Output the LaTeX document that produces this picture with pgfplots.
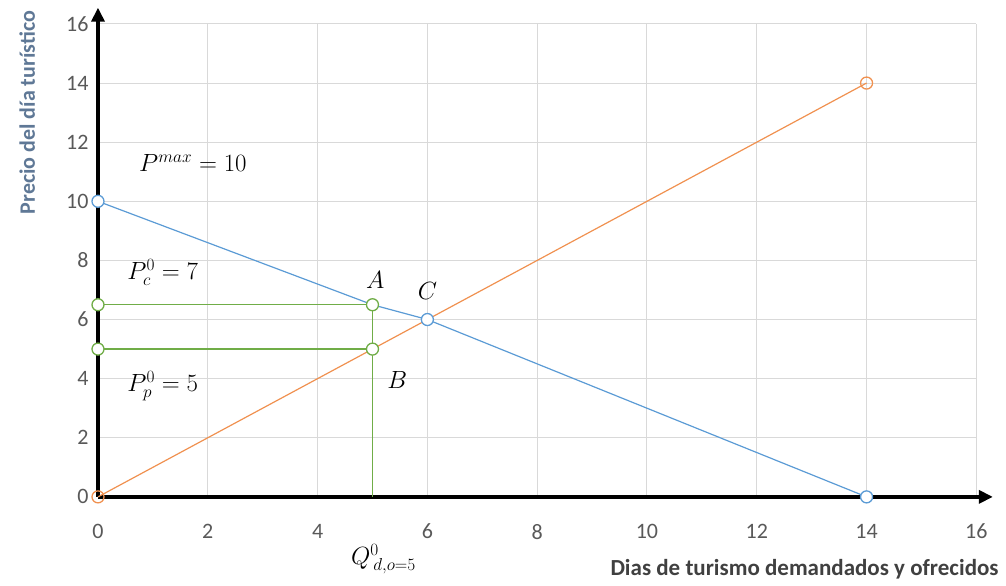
\documentclass[border=0pt]{standalone}
\usepackage{pgfplots}
\pgfplotsset{compat=1.18}
\usepackage{fontspec}
\setmainfont{Carlito}
\usetikzlibrary{arrows.meta}
\definecolor{xlblue}{RGB}{91,155,213}
\definecolor{xlorange}{RGB}{237,125,49}
\definecolor{xlgreen}{RGB}{112,173,71}
\definecolor{gridgray}{RGB}{217,217,217}
\definecolor{ticktext}{RGB}{89,89,89}
\definecolor{ytitle}{RGB}{95,120,150}
\definecolor{xtitle}{RGB}{64,64,64}
\begin{document}
\begin{tikzpicture}
\begin{axis}[
  x=54.9pt, y=29.56pt,
  xmin=0, xmax=16, ymin=0, ymax=16,
  xtick={0,2,...,16}, ytick={0,2,...,16},
  major tick length=0pt,
  grid=major,
  major grid style={gridgray, line width=1pt},
  axis line style={draw=none},
  tick label style={ticktext, font=\fontsize{22}{26}\selectfont},
  /pgf/number format/assume math mode=true,
  xticklabel style={inner sep=1pt, yshift=-26pt},
  yticklabel style={xshift=-6pt},
  clip=false,
]
% invisible frame giving the picture its size
\path (axis cs:-1.785,-3.01) rectangle (axis cs:16.54,16.81);

% axes with arrows
\draw[line width=3.5pt, -{Triangle[length=14pt,width=13pt]}] (axis cs:0,0) -- (axis cs:16.3,0);
\draw[line width=3.5pt, -{Triangle[length=14pt,width=13pt]}] (axis cs:0,0) -- (axis cs:0,16.55);

% supply
\addplot[xlorange!85, line width=1.2pt, mark=o, mark size=6pt,
  mark options={fill=white, line width=1.3pt}] coordinates {(0,0) (14,14)};
% demand
\addplot[xlblue, line width=1.2pt] coordinates {(0,10) (5,6.5) (6,6) (14,0)};
\addplot[only marks, xlblue, mark=*, mark size=6pt,
  mark options={fill=white, line width=1.3pt}] coordinates {(0,10) (6,6) (14,0)};
% green guides
\addplot[xlgreen, line width=1.2pt] coordinates {(5,6.5) (5,0)};
\addplot[xlgreen, line width=1.2pt, mark=*, mark size=6pt,
  mark options={fill=white, line width=1.3pt}] coordinates {(0,6.5) (5,6.5)};
\addplot[xlgreen, line width=1.2pt, mark=*, mark size=6pt,
  mark options={fill=white, line width=1.3pt}] coordinates {(0,5) (5,5)};

% annotations
\node[font=\fontsize{26}{30}\selectfont] at (axis cs:1.73,11.3) {$P^{max}=10$};
\node[font=\fontsize{26}{30}\selectfont] at (axis cs:1.18,7.6) {$P_c^0=7$};
\node[font=\fontsize{26}{30}\selectfont] at (axis cs:1.18,3.75) {$P_p^0=5$};
\node[font=\fontsize{25}{30}\selectfont] at (axis cs:5.05,7.35) {$A$};
\node[font=\fontsize{25}{30}\selectfont] at (axis cs:5.45,3.95) {$B$};
\node[font=\fontsize{25}{30}\selectfont] at (axis cs:6.0,6.95) {$C$};
\node[inner sep=0pt, font=\fontsize{25}{30}\selectfont] at (axis cs:5.2,-2.1) {$Q^{0}_{\,d,o=5}$};

% axis titles
\node[rotate=90, ytitle, font=\bfseries\fontsize{22}{26}\selectfont] at (axis cs:-1.29,13.0) {Precio del día turístico};
\node[xtitle, font=\bfseries\fontsize{23}{27}\selectfont] at (axis cs:12.87,-2.45) {Dias de turismo demandados y ofrecidos};
\end{axis}
\end{tikzpicture}
\end{document}
